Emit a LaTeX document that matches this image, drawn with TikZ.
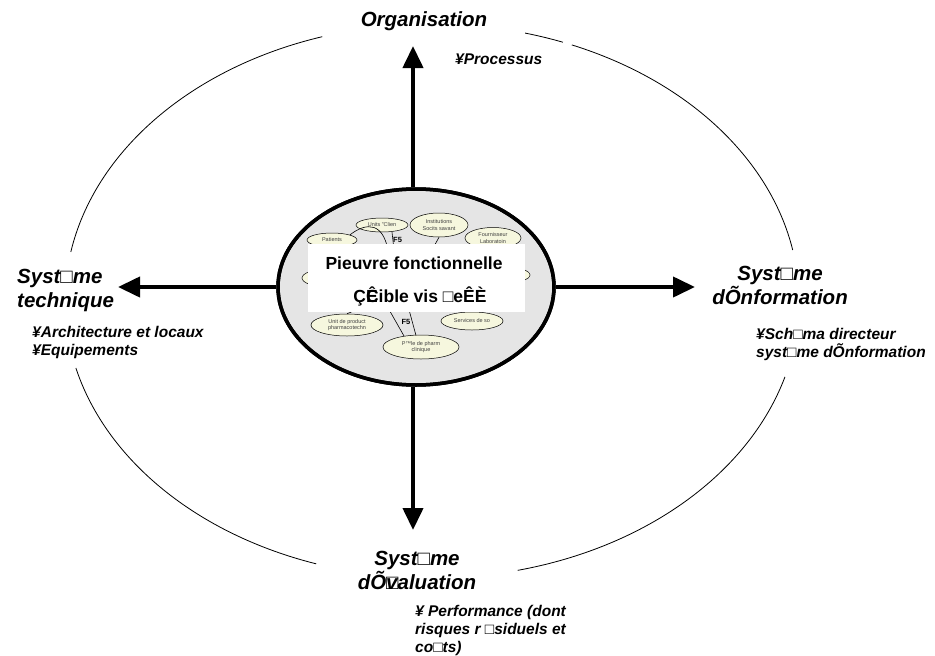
\documentclass[tikz,border=0pt]{standalone}
\usepackage{fontspec}
\setmainfont{Liberation Sans}
\usetikzlibrary{arrows.meta,shapes.geometric}
\definecolor{cream}{RGB}{246,247,222}
\definecolor{coregrey}{RGB}{229,229,229}
\begin{document}
\begin{tikzpicture}[x=1pt,y=1pt,
  head/.style={font=\fontsize{20.5}{24}\selectfont\bfseries\itshape, align=center, inner sep=0},
  sub/.style={font=\fontsize{15.5}{18}\selectfont\bfseries\itshape, align=left, inner sep=0, anchor=west},
  bigarrow/.style={line width=4pt, -{Triangle[length=22pt,width=20pt]}},
  rim/.style={line width=0.8pt},
  pod/.style={ellipse, draw, fill=cream, line width=0.5pt, inner sep=0, font=\fontsize{5.5}{6.5}\selectfont, text=black!75, align=center},
  wire/.style={line width=0.6pt},
  flabel/.style={font=\fontsize{7.5}{8}\selectfont\bfseries, inner sep=0},
  cardtext/.style={font=\fontsize{17.5}{20}\selectfont\bfseries, inner sep=0},
]
\useasboundingbox (0,0) rectangle (935,-656);
% outer ellipse, broken where the labels stand
\coordinate (C) at (432,-301);
\foreach \a/\b in {10.6/67.6, 69.1/75.3, 107.4/169.8, 194/251.6, 283.5/344.1}
  \draw[rim] ([shift={(\a:367pt and 277pt)}]C) arc[start angle=\a, end angle=\b, x radius=367pt, y radius=277pt];
% arrow tips
\coordinate (tipN) at (413,-46);
\coordinate (tipS) at (413,-530);
\coordinate (tipW) at (118,-287);
\coordinate (tipE) at (695,-287);
% core
\node[ellipse, draw, line width=3.5pt, fill=coregrey, minimum width=276pt, minimum height=196pt, inner sep=0] (core) at (416,-287) {};
\draw[bigarrow] (tipN |- core.north) -- (tipN);
\draw[bigarrow] (tipS |- core.south) -- (tipS);
\draw[bigarrow] (core.west) -- (tipW);
\draw[bigarrow] (core.east) -- (tipE);
\node[ellipse, draw, line width=3.5pt, minimum width=276pt, minimum height=196pt, inner sep=0] (corerim) at (416,-287) {};
% small ellipses
\node[pod, minimum width=52pt, minimum height=14pt] (u1) at (382,-225) {Units "Clien};
\node[pod, minimum width=58pt, minimum height=24pt] (u2) at (439,-225) {Institutions\\Socits savant};
\node[pod, minimum width=50pt, minimum height=14pt] (u3) at (332,-240) {Patients};
\node[pod, minimum width=56pt, minimum height=21pt] (u4) at (493,-238) {Fournisseur\\Laboratoin};
\node[pod, minimum width=52pt, minimum height=18pt] (u5) at (328,-278) {};
\node[pod, minimum width=50pt, minimum height=16pt] (u6) at (505,-275) {};
\node[pod, minimum width=72pt, minimum height=22pt] (u7) at (347,-325) {Unit de product\\pharmacotechn};
\node[pod, minimum width=62pt, minimum height=18pt] (u8) at (472,-321) {Services de so};
\node[pod, minimum width=76pt, minimum height=24pt] (u9) at (421,-347) {P™le de pharm\\clinique};
% links inside the core
\coordinate (k1) at (388,-250);
\coordinate (k2) at (394,-250);
\coordinate (k3) at (432,-250);
\coordinate (k4) at (387,-306);
\coordinate (k5) at (408,-306);
\coordinate (k6) at (366,-306);
\draw[wire] (u3.north east) .. controls (368,-221) and (383,-224) .. (k1);
\draw[wire] (392,-232) -- (k2);
\draw[wire] (u2.south) -- (k3);
\draw[wire] (k4) -- (404,-336);
\draw[wire] (k5) -- (416,-335.5);
\draw[wire] (k6) -- (u7.north);
\node[flabel, anchor=north west] (f1) at (393,-237.5) {F5};
\node[flabel] (f5) at (406,-322) {F5};
% white card
\node[fill=white, minimum width=217pt, minimum height=68pt, inner sep=0] (card) at (416.5,-278) {};
\node[cardtext] (t1) at (414,-263) {Pieuvre fonctionnelle};
\node[cardtext] (t2) at (420,-296) {Ç\rlap{Ê}Cible vis □eÊÈ};
% labels
\node[head] (org) at (424,-21) {Organisation};
\node[sub] (proc) at (455,-59) {¥Processus};
\node[head, align=left, anchor=west] (tech) at (17,-290) {Syst□me\\technique};
\node[sub] (techsub) at (32,-342) {¥Architecture et locaux\\¥Equipements};
\node[head] (info) at (780,-285) {Syst□me\\dÕnformation};
\node[sub] (infosub) at (756,-344) {¥Sch□ma directeur\\syst□me dÕnformation};
\node[head] (eval) at (417,-570) {Syst□me\\dÕ\rlap{□}valuation};
\node[sub] (evalsub) at (415,-630) {¥ Performance (dont\\risques r □siduels et\\co□ts)};
\end{tikzpicture}
\end{document}
